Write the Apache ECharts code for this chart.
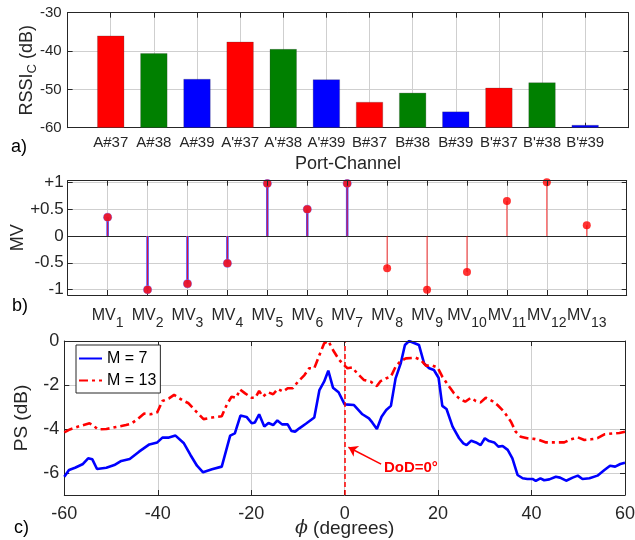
<!DOCTYPE html>
<html>
<head>
<meta charset="utf-8">
<script src="https://cdn.jsdelivr.net/npm/echarts@6/dist/echarts.min.js"></script>
<style>html,body{margin:0;padding:0;background:#fff}#c{width:635px;height:540px}</style>
</head>
<body>
<div id="c"></div>
<script>
// ---------- data ----------
const categories = ["A#37","A#38","A#39","A'#37","A'#38","A'#39","B#37","B#38","B#39","B'#37","B'#38","B'#39"];
const rssi = [-36.0,-40.6,-47.3,-37.6,-39.5,-47.4,-53.3,-50.9,-55.8,-49.6,-48.2,-59.3];
const rssiTicks = [-60,-50,-40,-30];
const channelColors = {"37":"#ff0000","38":"#008000","39":"#0000ff"};

const mvSub = ["1","2","3","4","5","6","7","8","9","10","11","12","13"];
const mv13 = [0.35,-1.0,-0.89,-0.51,0.98,0.50,0.98,-0.60,-1.0,-0.67,0.65,1.0,0.20];
const mv7 = [0.35,-1.0,-0.89,-0.51,0.98,0.50,0.98];
const mvTicks = [-1,-0.5,0,0.5,1];

const phi7 = [-60,-59,-57.7,-56,-54.9,-54,-53,-51,-49.3,-47.8,
-46,-44,-41.8,-40.1,-39,-37.6,-36.2,-34.4,-33,-31.6,
-30.3,-28.4,-26.3,-24.5,-23.5,-22.3,-21,-19.9,-19.2,-18.3,
-17.2,-16.3,-15.3,-14.4,-13.4,-12.2,-11.4,-10.6,-9.7,-8.3,
-6.5,-5.4,-4.4,-3.5,-2.5,-1.3,0,2,3.8,5.2,
5.9,6.9,7.9,8.9,9.9,10.9,12,12.9,13.8,15.9,
17,18.1,19.1,20.1,20.9,21.8,23.1,24.5,25.4,26.1,
27.1,28.1,29.1,30,30.9,32,32.9,33.8,34.9,35.9,
37,38.1,39.1,40.2,40.9,41.9,42.7,43.8,45.2,46.1,
47.4,48.8,49.9,50.9,52.4,54.1,55.6,56.8,57.9,59,
60];
const ps7 = [-6.17,-5.86,-5.76,-5.59,-5.33,-5.38,-5.82,-5.76,-5.64,-5.45,
-5.36,-5.03,-4.70,-4.61,-4.39,-4.39,-4.30,-4.65,-5.18,-5.67,
-5.97,-5.83,-5.71,-4.30,-4.20,-3.39,-3.45,-3.74,-3.70,-3.33,
-3.89,-3.73,-3.82,-3.61,-3.79,-3.79,-4.09,-4.12,-3.97,-3.76,
-3.48,-2.23,-1.85,-1.35,-2.12,-2.33,-2.88,-2.91,-3.33,-3.52,
-3.70,-4.0,-3.44,-3.14,-2.95,-1.70,-1.02,-0.18,0,-0.18,
-1.02,-1.24,-1.32,-1.67,-2.95,-3.09,-3.89,-4.42,-4.65,-4.73,
-4.53,-4.61,-4.73,-4.42,-4.55,-4.61,-4.80,-4.77,-4.95,-5.33,
-6.09,-6.24,-6.27,-6.27,-6.36,-6.24,-6.33,-6.29,-6.17,-6.21,
-6.35,-6.21,-6.12,-6.27,-6.24,-6.12,-5.86,-5.67,-5.71,-5.59,
-5.53];

const phi13 = [-60,-58.8,-57,-54.6,-53.9,-52.8,-51,-48.9,-46.8,-45.7,
-44.3,-42.9,-41.5,-40.1,-39,-37.6,-36.5,-34.8,-33.4,-31.9,
-30.2,-28.4,-26.3,-25.2,-24.2,-23.2,-22.4,-21.3,-19.9,-19.1,
-18.3,-17.5,-16.4,-15.3,-14.3,-13.2,-12.2,-11.1,-10,-8.6,
-7.6,-6.5,-5.4,-4.4,-3.5,-2.3,-1.2,0,0.6,1.6,
2.7,4.1,5.6,6.9,7.7,8.8,9.9,10.9,12,13.1,
15.2,16.3,17.4,18.8,19.9,20.9,22.4,23.4,24.5,25.8,
27,28.1,29.1,30.2,31.6,32.7,34.1,35.6,36.6,37.7,
39.1,40.6,41.6,43.1,44.5,45.9,47,48.4,49.9,51.3,
52.7,54.1,55.6,57.4,58.8,60];
const ps13 = [-4.15,-4.02,-3.89,-3.74,-3.82,-4.02,-4.0,-3.91,-3.82,-3.76,
-3.55,-3.30,-3.33,-3.24,-2.73,-2.61,-2.45,-2.68,-2.83,-3.18,
-3.55,-3.48,-3.42,-2.88,-2.53,-2.58,-2.20,-2.38,-2.58,-2.58,
-2.27,-2.53,-2.33,-2.42,-2.18,-2.30,-2.15,-2.15,-1.85,-1.55,
-1.24,-1.24,-0.64,-0.11,0,-0.48,-0.85,-1.12,-1.24,-1.2,
-1.47,-1.77,-1.85,-2.05,-1.82,-1.70,-1.62,-1.17,-0.91,-0.79,
-0.76,-0.86,-1.12,-1.12,-1.21,-1.62,-2.08,-2.38,-2.61,-2.76,
-2.58,-2.73,-2.79,-2.58,-2.73,-2.91,-3.21,-3.67,-4.12,-4.35,
-4.42,-4.45,-4.5,-4.61,-4.61,-4.61,-4.61,-4.47,-4.38,-4.5,
-4.47,-4.42,-4.24,-4.20,-4.18,-4.12];
const phiTicks = [-60,-40,-20,0,20,40,60];
const psTicks = [-6,-4,-2,0];

// annotation (data space)
const dodArrowFrom = [7.8,-5.6];
const dodArrowTo = [0.8,-4.83];
const dodTextAt = [8.4,-5.75];

// ---------- style ----------
const AX = '#262626';
const GRIDC = '#cfcfcf';
const FONT = '"Liberation Sans", Arial, Helvetica, sans-serif';

function mainAxis(o) {
  return Object.assign({
    type: 'value', z: 1, nameMoveOverlap: false,
    axisLine: {show: true, onZero: false, lineStyle: {color: AX, width: 1}},
    axisTick: {show: true, inside: true, length: 5, lineStyle: {color: AX}},
    splitLine: {show: false}
  }, o);
}
function frameAxis(o) {
  return Object.assign({
    type: 'value', z: 6,
    axisLine: {show: true, onZero: false, lineStyle: {color: AX, width: 1}},
    axisTick: {show: true, inside: true, length: 5, lineStyle: {color: AX}},
    axisLabel: {show: false},
    splitLine: {show: false}
  }, o);
}
// grid lines drawn at the axis tick values, under the data
function gridLines(idx, xs, ys) {
  return {type: 'line', xAxisIndex: idx, yAxisIndex: idx, data: [], z: 1, silent: true,
    markLine: {silent: true, z: 1, symbol: ['none', 'none'], label: {show: false}, animation: false,
      lineStyle: {color: GRIDC, width: 1, type: 'solid'},
      data: xs.map(v => ({xAxis: v})).concat(ys.map(v => ({yAxis: v})))}};
}

function stemRender(color, width) {
  return function (params, api) {
    const x = api.value(0), y = api.value(1);
    const a = api.coord([x, 0]);
    const b = api.coord([x, y]);
    return {type: 'line', shape: {x1: a[0], y1: a[1], x2: b[0], y2: b[1]},
            style: {stroke: color, lineWidth: width}};
  };
}

const catPos = categories.map((c, i) => i + 1);
const mvPos = mvSub.map((c, i) => i + 1);

const chart = echarts.init(document.getElementById('c'), null, {renderer: 'canvas'});
const option = {
  animation: false,
  textStyle: {fontFamily: FONT},
  grid: [
    {left: 67.6, top: 12.7, width: 560.7, height: 115, outerBoundsMode: 'none', containLabel: false},
    {left: 67.7, top: 180.7, width: 559, height: 114.3, outerBoundsMode: 'none', containLabel: false},
    {left: 64.3, top: 341, width: 560.7, height: 154, outerBoundsMode: 'none', containLabel: false}
  ],
  legend: {
    data: ['M = 7', 'M = 13'],
    left: 76, top: 345, orient: 'vertical', z: 8,
    backgroundColor: '#fff', borderColor: AX, borderWidth: 1, borderRadius: 0,
    padding: [4, 4, 3, 2], itemGap: 3, itemWidth: 23, itemHeight: 14,
    itemStyle: {opacity: 0},
    textStyle: {fontSize: 16, color: '#000', fontFamily: FONT, lineHeight: 19}
  },
  xAxis: [
    mainAxis({gridIndex: 0, min: 0, max: 13, interval: 1,
      name: 'Port-Channel', nameLocation: 'middle', nameGap: 27,
      nameTextStyle: {fontSize: 18, color: AX, fontFamily: FONT},
      axisLabel: {fontSize: 15, color: AX, margin: 8, fontFamily: FONT,
        formatter: v => categories[v - 1] || ''}}),
    frameAxis({gridIndex: 0, position: 'top', min: 0, max: 13, interval: 1}),
    mainAxis({gridIndex: 1, min: 0, max: 14, interval: 1,
      axisLabel: {color: AX, margin: 6, fontFamily: FONT,
        formatter: v => (mvSub[v - 1] ? '{m|MV}{s|' + mvSub[v - 1] + '}' : ''),
        rich: {m: {fontSize: 16, color: AX, fontFamily: FONT},
               s: {fontSize: 14, color: AX, fontFamily: FONT, padding: [15, 0, 0, 0]}}}}),
    frameAxis({gridIndex: 1, position: 'top', min: 0, max: 14, interval: 1}),
    mainAxis({gridIndex: 2, min: -60, max: 60, interval: 20,
      name: '{i|ϕ} (degrees)', nameLocation: 'middle', nameGap: 24,
      nameTextStyle: {fontSize: 19, color: AX, fontFamily: FONT,
        rich: {i: {fontSize: 19, fontStyle: 'italic', fontFamily: '"DejaVu Serif", serif', color: AX}}},
      axisLabel: {fontSize: 18, color: AX, margin: 10, fontFamily: FONT}}),
    frameAxis({gridIndex: 2, position: 'top', min: -60, max: 60, interval: 20})
  ],
  yAxis: [
    mainAxis({gridIndex: 0, min: -60, max: -30, interval: 10, startValue: -60,
      name: '{a|RSSI}{s|C}{a| (dB)}', nameLocation: 'middle', nameGap: 29,
      nameTextStyle: {color: AX, fontFamily: FONT,
        rich: {a: {fontSize: 18, color: AX, fontFamily: FONT},
               s: {fontSize: 13, color: AX, fontFamily: FONT, padding: [10, 0, 0, 0]}}},
      axisLabel: {fontSize: 15, color: AX, margin: 6, fontFamily: FONT}}),
    frameAxis({gridIndex: 0, position: 'right', min: -60, max: -30, interval: 10}),
    mainAxis({gridIndex: 1, min: -1.1, max: 1.03,
      name: 'MV', nameLocation: 'middle', nameGap: 41,
      nameTextStyle: {fontSize: 18, color: AX, fontFamily: FONT},
      axisTick: {show: true, inside: true, length: 5, lineStyle: {color: AX}, customValues: mvTicks},
      axisLabel: {fontSize: 17, color: AX, margin: 4, fontFamily: FONT, customValues: mvTicks,
        formatter: v => (v > 0 ? '+' + v : String(v))}}),
    frameAxis({gridIndex: 1, position: 'right', min: -1.1, max: 1.03,
      axisTick: {show: true, inside: true, length: 5, lineStyle: {color: AX}, customValues: mvTicks}}),
    mainAxis({gridIndex: 2, min: -7, max: 0,
      name: 'PS (dB)', nameLocation: 'middle', nameGap: 33,
      nameTextStyle: {fontSize: 19, color: AX, fontFamily: FONT},
      axisTick: {show: true, inside: true, length: 5, lineStyle: {color: AX}, customValues: psTicks},
      axisLabel: {fontSize: 18, color: AX, margin: 5, fontFamily: FONT, customValues: psTicks}}),
    frameAxis({gridIndex: 2, position: 'right', min: -7, max: 0,
      axisTick: {show: true, inside: true, length: 5, lineStyle: {color: AX}, customValues: psTicks}})
  ],
  graphic: [
    {type: 'text', left: 11, top: 138, style: {text: 'a)', font: '18px ' + FONT, fill: '#000'}},
    {type: 'text', left: 12, top: 297, style: {text: 'b)', font: '18px ' + FONT, fill: '#000'}},
    {type: 'text', left: 14, top: 519, style: {text: 'c)', font: '18px ' + FONT, fill: '#000'}}
  ],
  series: [
    gridLines(0, catPos, rssiTicks.slice(1, -1)),
    gridLines(2, mvPos, mvTicks.filter(v => v !== 0)),
    gridLines(4, phiTicks.slice(1, -1), psTicks.slice(0, -1)),
    {type: 'bar', xAxisIndex: 0, yAxisIndex: 0, barWidth: 27, z: 2,
     data: categories.map((c, i) => ({value: [i + 1, rssi[i]],
       itemStyle: {color: channelColors[c.slice(-2)], borderColor: 'rgba(60,60,60,0.5)', borderWidth: 0.5}}))},
    {type: 'custom', xAxisIndex: 2, yAxisIndex: 2, renderItem: stemRender('#5050ff', 2.6),
     data: mv7.map((v, i) => [i + 1, v]), z: 2},
    {type: 'custom', xAxisIndex: 2, yAxisIndex: 2, renderItem: stemRender('#ff0000', 0.8),
     data: mv13.map((v, i) => [i + 1, v]), z: 3},
    {type: 'scatter', xAxisIndex: 2, yAxisIndex: 2, symbol: 'circle', symbolSize: 9, z: 4,
     itemStyle: {color: '#7070ff'}, data: mv7.map((v, i) => [i + 1, v])},
    {type: 'scatter', xAxisIndex: 2, yAxisIndex: 2, symbol: 'circle', symbolSize: 8, z: 5,
     itemStyle: {color: '#ff0000'}, data: mv13.map((v, i) => [i + 1, v]),
     markLine: {silent: true, z: 2, symbol: ['none', 'none'], label: {show: false},
       lineStyle: {color: AX, width: 1, type: 'solid'}, data: [{yAxis: 0}]}},
    {name: 'M = 7', type: 'line', xAxisIndex: 4, yAxisIndex: 4, symbol: 'none', z: 4,
     lineStyle: {color: '#0000ff', width: 2.6}, itemStyle: {color: '#0000ff'},
     data: phi7.map((p, i) => [p, ps7[i]])},
    {name: 'M = 13', type: 'line', xAxisIndex: 4, yAxisIndex: 4, symbol: 'none', z: 5,
     lineStyle: {color: '#ff0000', width: 2.6, type: [9, 4, 3, 4]}, itemStyle: {color: '#ff0000'},
     data: phi13.map((p, i) => [p, ps13[i]]),
     markLine: {silent: true, symbol: ['none', 'none'], label: {show: false},
       data: [
         {xAxis: 0, lineStyle: {color: '#ff0000', width: 1.5, type: [5, 3]}},
         [{coord: dodArrowFrom, symbol: 'none', lineStyle: {color: '#ff0000', width: 1.5, type: 'solid'}},
          {coord: dodArrowTo, symbol: 'arrow', symbolSize: 9}]
       ]},
     markPoint: {silent: true, symbol: 'circle', symbolSize: 0,
       data: [{coord: dodTextAt,
         label: {show: true, position: 'right', distance: 0, formatter: 'DoD=0°',
           color: '#ff0000', fontWeight: 'bold', fontSize: 15, fontFamily: FONT}}]}}
  ]
};
chart.setOption(option);
</script>
</body>
</html>
